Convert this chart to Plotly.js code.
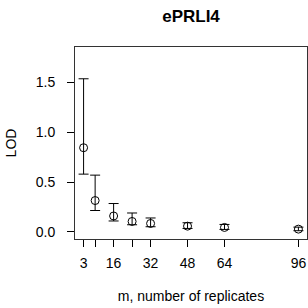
<!DOCTYPE html>
<html>
<head>
<meta charset="utf-8">
<script src="https://cdn.plot.ly/plotly-3.0.1.min.js"></script>
<style>html,body{margin:0;padding:0;background:#fff;}#chart{width:308px;height:308px;}</style>
</head>
<body>
<div id="chart"></div>
<script>
const replicates = [3, 8, 16, 24, 32, 48, 64, 96];
const lodMean = [0.845, 0.315, 0.16, 0.105, 0.085, 0.058, 0.045, 0.028];
const lodUpper = [1.537, 0.57, 0.285, 0.19, 0.14, 0.092, 0.075, 0.048];
const lodLower = [0.58, 0.215, 0.11, 0.072, 0.052, 0.035, 0.025, 0.012];
const xTickVals = [3, 8, 16, 24, 32, 48, 64, 96];
const xTickText = ['3', '', '16', '', '32', '48', '64', '96'];
const yTickVals = [0, 0.5, 1.0, 1.5];
const yTickText = ['0.0', '0.5', '1.0', '1.5'];

const errPlus = lodUpper.map((u, i) => u - lodMean[i]);
const errMinus = lodMean.map((m, i) => m - lodLower[i]);

const font = 'Liberation Sans, Arial, Helvetica, sans-serif';
const trace = {
  x: replicates,
  y: lodMean,
  type: 'scatter',
  mode: 'markers',
  marker: {symbol: 'circle-open', size: 8, color: '#000', line: {width: 1, color: '#000'}},
  error_y: {type: 'data', symmetric: false, array: errPlus, arrayminus: errMinus,
            color: '#000', thickness: 1, width: 5},
  showlegend: false,
  hoverinfo: 'none'
};
const layout = {
  width: 308, height: 308,
  margin: {l: 75, r: 1, t: 47, b: 69},
  paper_bgcolor: '#fff', plot_bgcolor: '#fff',
  font: {family: font, size: 14, color: '#000'},
  title: {text: '<b>ePRLI4</b>', x: 0.5, xref: 'paper', y: 1, yref: 'container', yanchor: 'top', pad: {t: 10},
          font: {family: font, size: 17, color: '#000'}},
  xaxis: {
    range: [-0.72, 99.72], tickvals: xTickVals, ticktext: xTickText,
    ticks: 'outside', ticklen: 7, tickwidth: 1, tickcolor: '#000',
    showline: true, linecolor: '#333', linewidth: 1, mirror: true,
    showgrid: false, zeroline: false, ticklabelstandoff: 4,
    tickfont: {family: font, size: 14},
    title: {text: 'm, number of replicates', standoff: 21, font: {family: font, size: 14}}
  },
  yaxis: {
    range: [-0.071, 1.856], tickvals: yTickVals, ticktext: yTickText,
    ticks: 'outside', ticklen: 7, tickwidth: 1, tickcolor: '#000',
    showline: true, linecolor: '#333', linewidth: 1, mirror: true,
    showgrid: false, zeroline: false, ticklabelstandoff: 9,
    tickfont: {family: font, size: 14},
    title: {text: 'LOD', standoff: 15, font: {family: font, size: 14}}
  }
};
Plotly.newPlot('chart', [trace], layout, {staticPlot: true, displayModeBar: false});
</script>
</body>
</html>
